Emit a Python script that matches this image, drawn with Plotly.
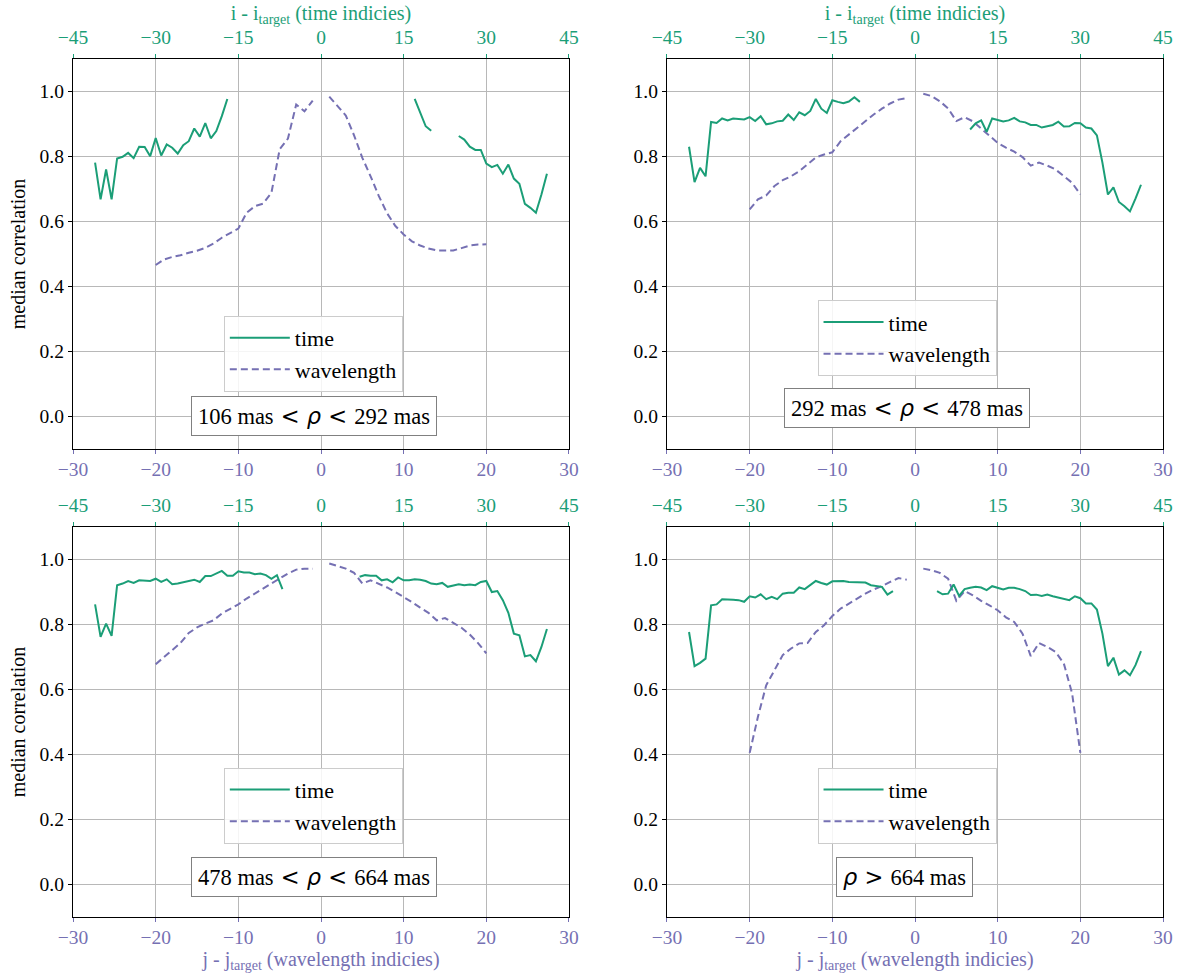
import plotly.graph_objects as go

# ---------------- data ----------------
time_idx = list(range(-41, 42))          # i - i_target
wave_idx = list(range(-20, 21))          # j - j_target
N = None

time_tl = ([0.781,0.668,0.760,0.668,0.794,0.799,0.811,0.795,0.830,0.829,0.801,0.857,0.803,0.837,0.827,0.809,0.835,0.847,0.886,0.861,0.903,0.856,0.878,0.924,0.977]
           + [N]*33 + [0.977,0.935,0.893,0.879] + [N]*4 +
           [0.863,0.852,0.830,0.820,0.820,0.778,0.767,0.774,0.747,0.775,0.732,0.716,0.654,0.642,0.627,0.683,0.747])
time_tr = ([0.830,0.721,0.765,0.739,0.906,0.903,0.917,0.911,0.917,0.916,0.914,0.921,0.909,0.924,0.899,0.902,0.908,0.910,0.929,0.912,0.936,0.927,0.940,0.977,0.947,0.934,0.973,0.968,0.964,0.969,0.982,0.968]
           + [N]*19 +
           [0.883,0.902,0.911,0.876,0.917,0.912,0.908,0.911,0.919,0.908,0.905,0.897,0.897,0.889,0.894,0.897,0.907,0.892,0.893,0.903,0.902,0.889,0.886,0.865,0.781,0.683,0.705,0.660,0.647,0.631,0.670,0.713])
time_bl = ([0.862,0.762,0.803,0.765,0.921,0.926,0.934,0.928,0.936,0.936,0.934,0.941,0.931,0.939,0.924,0.926,0.930,0.934,0.938,0.931,0.949,0.949,0.957,0.965,0.950,0.950,0.964,0.960,0.960,0.955,0.957,0.952,0.941,0.952,0.909]
           + [N]*13 +
           [0.947,0.952,0.950,0.950,0.936,0.939,0.930,0.945,0.936,0.936,0.939,0.938,0.934,0.926,0.924,0.928,0.916,0.919,0.924,0.921,0.923,0.921,0.931,0.934,0.900,0.903,0.875,0.836,0.772,0.767,0.702,0.706,0.687,0.731,0.786])
time_br = ([0.777,0.672,0.682,0.695,0.859,0.862,0.878,0.876,0.876,0.875,0.870,0.887,0.883,0.893,0.878,0.885,0.878,0.895,0.898,0.898,0.914,0.909,0.921,0.934,0.928,0.923,0.933,0.933,0.934,0.931,0.931,0.929,0.929,0.921,0.918,0.916,0.892,0.903]
           + [N]*7 +
           [0.903,0.893,0.895,0.923,0.888,0.909,0.913,0.916,0.914,0.906,0.918,0.912,0.908,0.913,0.913,0.909,0.903,0.891,0.892,0.888,0.892,0.887,0.883,0.878,0.875,0.887,0.881,0.865,0.865,0.846,0.772,0.672,0.698,0.646,0.659,0.644,0.675,0.718])

wave_tl = [0.466,0.483,0.491,0.496,0.504,0.510,0.519,0.532,0.550,0.565,0.578,0.627,0.647,0.655,0.688,0.822,0.855,0.960,0.939,0.972, N,
           0.984,0.955,0.926,0.865,0.796,0.739,0.678,0.625,0.586,0.560,0.539,0.526,0.517,0.511,0.511,0.511,0.518,0.526,0.529,0.530]
wave_tr = [0.637,0.668,0.680,0.709,0.727,0.739,0.755,0.775,0.797,0.806,0.813,0.847,0.868,0.889,0.911,0.929,0.947,0.963,0.975,0.980, N,
           0.993,0.986,0.970,0.948,0.909,0.921,0.908,0.885,0.863,0.842,0.827,0.815,0.798,0.772,0.781,0.772,0.760,0.739,0.719,0.683]
wave_bl = [0.678,0.700,0.723,0.743,0.774,0.791,0.803,0.813,0.834,0.848,0.862,0.880,0.895,0.911,0.926,0.941,0.957,0.969,0.972,0.972, N,
           0.988,0.979,0.972,0.959,0.926,0.936,0.926,0.914,0.900,0.885,0.869,0.852,0.836,0.813,0.820,0.805,0.790,0.769,0.743,0.711]
wave_br = [0.405,0.516,0.613,0.659,0.706,0.726,0.742,0.743,0.777,0.798,0.826,0.849,0.865,0.880,0.895,0.908,0.918,0.931,0.943,0.938, N,
           0.972,0.967,0.959,0.941,0.873,0.903,0.890,0.873,0.859,0.844,0.822,0.808,0.772,0.703,0.743,0.731,0.716,0.680,0.588,0.405]

rho_labels = ["106 mas", "292 mas", "478 mas", "664 mas"]
bottom_ticks = [-30, -20, -10, 0, 10, 20, 30]
top_ticks = [-45, -30, -15, 0, 15, 30, 45]
shared_grid = [-10, 0, 10]    # bottom grid lines that coincide with top-axis grid (drawn darker)
y_ticks = [0.0, 0.2, 0.4, 0.6, 0.8, 1.0]

# ---------------- styling ----------------
GREEN = "#1b9e77"
PURPLE = "#7570b3"
FONT = "Liberation Serif, Times New Roman, serif"
FS = 19.5          # tick labels / axis titles
FS_LEG = 22        # legend
FS_ANN = 22.5      # annotation boxes
GRID = "#b8b8b8"
GRID_DARK = "#a2a2a2"

time_series = [time_tl, time_tr, time_bl, time_br]
wave_series = [wave_tl, wave_tr, wave_bl, wave_br]

XD = [[0.0620, 0.4830], [0.5662, 0.9873]]
YD = [[0.5409, 0.9397], [0.0624, 0.4611]]
legend_pos = [(0.190, 0.677), (0.694, 0.693), (0.190, 0.215), (0.694, 0.215)]

sym = "<span style='font-family:DejaVu Sans'> &lt; <i>ρ</i> &lt; </span>"
ann_text = [rho_labels[0] + sym + rho_labels[1],
            rho_labels[1] + sym + rho_labels[2],
            rho_labels[2] + sym + rho_labels[3],
            "<span style='font-family:DejaVu Sans'><i>ρ</i> &gt; </span>" + rho_labels[3]]
ann_pos = [(0.2666, 0.5746), (0.770, 0.5828), (0.2666, 0.1033), (0.768, 0.1033)]

fig = go.Figure()
layout = {}
annotations = []

for k in range(4):
    row, col = divmod(k, 2)
    n = k + 1
    bx = "x" if n == 1 else f"x{n}"
    tx = f"x{n+4}"
    gx = f"x{n+8}"
    yy = "y" if n == 1 else f"y{n}"
    leg = "legend" if n == 1 else f"legend{n}"

    fig.add_trace(go.Scatter(x=time_idx, y=time_series[k], mode="lines", name="time",
                             line=dict(color=GREEN, width=2), xaxis=tx, yaxis=yy,
                             legend=leg, legendgroup=f"t{n}", connectgaps=False))
    fig.add_trace(go.Scatter(x=wave_idx, y=wave_series[k], mode="lines", name="wavelength",
                             line=dict(color=PURPLE, width=2, dash="7px,4px"), xaxis=bx, yaxis=yy,
                             legend=leg, legendgroup=f"w{n}", connectgaps=False))

    bkey = "xaxis" if n == 1 else f"xaxis{n}"
    ykey = "yaxis" if n == 1 else f"yaxis{n}"
    tkey = f"xaxis{n+4}"
    gkey = f"xaxis{n+8}"

    layout[bkey] = dict(domain=XD[col], anchor=yy, side="bottom", range=[-30, 30], automargin=False,
                        tickmode="array", tickvals=bottom_ticks,
                        tickfont=dict(family=FONT, size=FS, color=PURPLE),
                        ticks="outside", ticklen=4, tickcolor=PURPLE, ticklabelstandoff=-2,
                        showgrid=True, gridcolor=GRID, gridwidth=1,
                        showline=True, linecolor="black", linewidth=1.3, mirror=True,
                        zeroline=False)
    if row == 1:
        layout[bkey]["title"] = dict(text="j - j<sub>target</sub> (wavelength indicies)",
                                     font=dict(family=FONT, size=FS + 0.5, color=PURPLE), standoff=3)
    layout[tkey] = dict(domain=XD[col], anchor=yy, overlaying=bx, side="top", range=[-45, 45], automargin=False,
                        tickmode="array", tickvals=top_ticks,
                        tickfont=dict(family=FONT, size=FS, color=GREEN),
                        ticks="outside", ticklen=4, tickcolor=GREEN, ticklabelstandoff=2,
                        showgrid=False, zeroline=False, showline=False)
    if row == 0:
        layout[tkey]["title"] = dict(text="i - i<sub>target</sub> (time indicies)",
                                     font=dict(family=FONT, size=FS + 0.5, color=GREEN), standoff=0)
    # helper axis: darker grid where both axes' grids overlap
    layout[gkey] = dict(domain=XD[col], anchor=yy, overlaying=bx, side="bottom", range=[-30, 30],
                        automargin=False, tickmode="array", tickvals=shared_grid,
                        showticklabels=False, ticks="", showgrid=True, gridcolor=GRID_DARK,
                        gridwidth=1, zeroline=False, showline=False)
    layout[ykey] = dict(domain=YD[row], anchor=bx, range=[-0.1, 1.1], automargin=False,
                        tickmode="array", tickvals=y_ticks, tickformat=".1f",
                        tickfont=dict(family=FONT, size=FS, color="black"),
                        ticks="outside", ticklen=4, tickcolor="black",
                        showgrid=True, gridcolor=GRID, gridwidth=1,
                        showline=True, linecolor="black", linewidth=1.3, mirror=True,
                        zeroline=False)
    if col == 0:
        layout[ykey]["title"] = dict(text="median correlation",
                                     font=dict(family=FONT, size=FS + 0.5, color="black"), standoff=8)
    lx, ly = legend_pos[k]
    layout[leg] = dict(x=lx, y=ly, xanchor="left", yanchor="top", xref="paper", yref="paper",
                       bgcolor="rgba(255,255,255,0.85)", bordercolor="#cccccc", borderwidth=1,
                       font=dict(family=FONT, size=FS_LEG, color="black"),
                       tracegroupgap=0, traceorder="grouped", itemwidth=60)
    ax, ay = ann_pos[k]
    annotations.append(dict(text=ann_text[k], x=ax, y=ay, xref="paper", yref="paper",
                            xanchor="center", yanchor="middle", showarrow=False,
                            font=dict(family=FONT, size=FS_ANN, color="black"),
                            bgcolor="white", bordercolor="#808080", borderwidth=1, borderpad=6))

fig.update_layout(**layout)
fig.update_layout(width=1178, height=978, margin=dict(l=0, r=0, t=0, b=0, autoexpand=False),
                  paper_bgcolor="white", plot_bgcolor="white",
                  annotations=annotations, showlegend=True,
                  font=dict(family=FONT, size=FS))

fig.write_html("out.html")
